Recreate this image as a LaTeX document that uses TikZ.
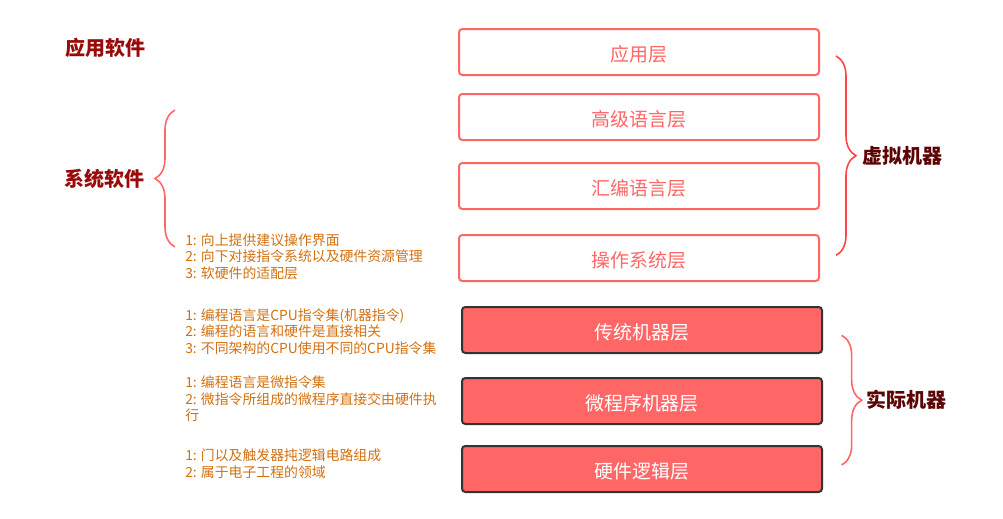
\documentclass[tikz,border=0pt]{standalone}
\usepackage{fontspec}
\setmainfont{Noto Sans CJK SC}
\usetikzlibrary{decorations.pathreplacing}

\definecolor{layerred}{HTML}{FF6666}
\definecolor{bracered}{HTML}{FF4545}
\definecolor{softred}{HTML}{990A0A}
\definecolor{deepred}{HTML}{5C0505}
\definecolor{noteorange}{HTML}{D2700F}
\definecolor{edgegray}{HTML}{333333}

\tikzset{
  vlayer/.style={draw=layerred, line width=1.5pt, rounded corners=2.5pt, fill=white,
    minimum width=270pt, minimum height=34.5pt, text=layerred,
    text height=15pt, text depth=1.2pt,
    font=\fontsize{14.2}{16}\selectfont},
  rlayer/.style={draw=edgegray, line width=1.5pt, rounded corners=2.5pt, fill=layerred,
    minimum width=270pt, minimum height=34.5pt, text=white,
    text height=15pt, text depth=1.2pt,
    font=\fontsize{14.2}{16}\selectfont},
  curly/.style={decorate, decoration={brace, amplitude=15pt}, line width=1.2pt},
  group/.style={font=\bfseries\fontsize{15}{17}\selectfont},
  note/.style={anchor=west, align=left, text=noteorange, inner sep=0pt,
    font=\fontsize{10.4}{12.4}\selectfont}
}

\begin{document}
\begin{tikzpicture}[x=0.75pt, y=-0.75pt]
\useasboundingbox (0,0) rectangle (1003,518);

% Schichten der virtuellen Maschine
\node[vlayer] (app) at (639,52) {应用层};
\node[vlayer] (high) at (639,117) {高级语言层};
\node[vlayer] (asm) at (639,186) {汇编语言层};
\node[vlayer] (os) at (639,258) {操作系统层};

% Schichten der realen Maschine
\node[rlayer] (trad) at (642,330) {传统机器层};
\node[rlayer] (micro) at (642,401) {微程序机器层};
\node[rlayer] (logic) at (642,469) {硬件逻辑层};

% Klammern rechts
\draw[curly, bracered] ([xshift=12pt,yshift=-3pt]app.east) -- ([xshift=12pt,yshift=2pt]os.east)
      node[midway, right=16pt, group, text=deepred] (vm) {虚拟机器};
\draw[curly, layerred] ([xshift=14pt,yshift=-4pt]trad.east) -- ([xshift=14pt,yshift=3pt]logic.east)
      node[midway, right=15pt, group, text=deepred] (rm) {实际机器};

% Software links
\node[group, text=softred] (appsw) at (105,48) {应用软件};
\draw[curly, layerred] (175,247) -- (175,110)
      node[midway, left=19pt, group, text=softred] (syssw) {系统软件};

% Erklaerungen
\node[note] (osnote) at (185,256.5) {1: 向上提供建议操作界面\\2: 向下对接指令系统以及硬件资源管理\\3: 软硬件的适配层};
\node[note] (tradnote) at (185,331.5) {1: 编程语言是CPU指令集(机器指令)\\2: 编程的语言和硬件是直接相关\\3: 不同架构的CPU使用不同的CPU指令集};
\node[note] (micronote) at (185,399) {1: 编程语言是微指令集\\2: 微指令所组成的微程序直接交由硬件执\\行};
\node[note] (logicnote) at (185,463.5) {1: 门以及触发器扽逻辑电路组成\\2: 属于电子工程的领域};

\end{tikzpicture}
\end{document}
